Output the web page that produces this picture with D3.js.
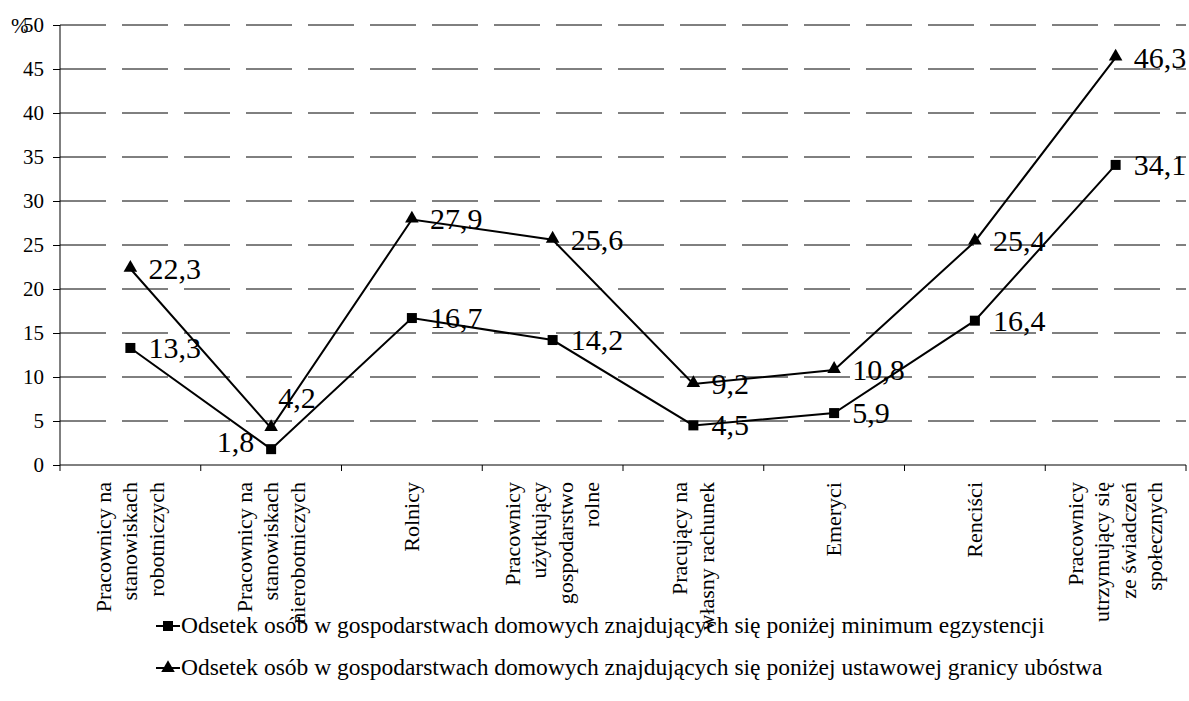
<!DOCTYPE html>
<html>
<head>
<meta charset="utf-8">
<script src="https://cdn.jsdelivr.net/npm/d3@7"></script>
<style>
  #chart text { font-family: "Liberation Serif", "Times New Roman", serif !important; }
</style>
</head>
<body style="margin:0">
<svg id="chart" width="1189" height="701"></svg>
<script>
const categories = [
  ["Pracownicy na", "stanowiskach", "robotniczych"],
  ["Pracownicy na", "stanowiskach", "nierobotniczych"],
  ["Rolnicy"],
  ["Pracownicy", "użytkujący", "gospodarstwo", "rolne"],
  ["Pracujący na", "własny rachunek"],
  ["Emeryci"],
  ["Renciści"],
  ["Pracownicy", "utrzymujący się", "ze świadczeń", "społecznych"]
];
const minimumEgz = [13.3, 1.8, 16.7, 14.2, 4.5, 5.9, 16.4, 34.1];
const granicaUb = [22.3, 4.2, 27.9, 25.6, 9.2, 10.8, 25.4, 46.3];
const seriesNames = [
  "Odsetek osób w gospodarstwach domowych znajdujących się poniżej minimum egzystencji",
  "Odsetek osób w gospodarstwach domowych znajdujących się poniżej ustawowej granicy ubóstwa"
];
const yTicks = [0, 5, 10, 15, 20, 25, 30, 35, 40, 45, 50];

const FONT = "Liberation Serif";
const svg = d3.select("#chart");
const plot = { left: 60, right: 1186, top: 25, bottom: 465 };

const x = d3.scaleBand().domain(d3.range(categories.length)).range([plot.left, plot.right]);
const y = d3.scaleLinear().domain([0, 50]).range([plot.bottom, plot.top]);
const fmt = v => String(v).replace(".", ",");
const cx = i => x(i) + x.bandwidth() / 2;

function serif(sel, size) {
  return sel.attr("font-family", FONT).attr("font-size", size)
    .style("font-family", `"${FONT}"`).style("font-size", size + "px");
}

// dashed gridlines
svg.append("g")
  .selectAll("line")
  .data(yTicks.filter(t => t > 0))
  .join("line")
  .attr("x1", plot.left).attr("x2", plot.right)
  .attr("y1", d => y(d)).attr("y2", d => y(d))
  .attr("stroke", "#000").attr("stroke-width", 1)
  .attr("stroke-dasharray", "46,16");

// y axis
const yAxis = svg.append("g")
  .attr("transform", `translate(${plot.left},0)`)
  .call(d3.axisLeft(y).tickValues(yTicks).tickSize(7).tickPadding(9).tickFormat(d3.format("d")));
yAxis.attr("font-family", null).attr("font-size", null);
yAxis.select(".domain").attr("stroke", "#000").attr("d", `M0,${plot.top}V${plot.bottom}`);
yAxis.selectAll(".tick line").attr("stroke", "#000");
serif(yAxis.selectAll(".tick text").attr("fill", "#000"), 21);

serif(svg.append("text").attr("x", 11).attr("y", 33), 21).text("%");

// x axis
svg.append("line").attr("x1", plot.left).attr("x2", plot.right)
  .attr("y1", plot.bottom).attr("y2", plot.bottom).attr("stroke", "#000");
svg.append("g").selectAll("line")
  .data(d3.range(categories.length + 1))
  .join("line")
  .attr("x1", d => plot.left + d * x.bandwidth()).attr("x2", d => plot.left + d * x.bandwidth())
  .attr("y1", plot.bottom).attr("y2", plot.bottom + 6)
  .attr("stroke", "#000");

// category labels, rotated
const lineGap = 26.5;
categories.forEach((lines, i) => {
  lines.forEach((ln, j) => {
    const off = (j - (lines.length - 1) / 2) * lineGap;
    serif(svg.append("text")
      .attr("transform", `translate(${cx(i) + off + 7},482) rotate(-90)`)
      .attr("text-anchor", "end"), 22)
      .text(ln);
  });
});

// lines
const line = d3.line().x((d, i) => cx(i)).y(d => y(d));
[minimumEgz, granicaUb].forEach(s => {
  svg.append("path").datum(s).attr("d", line)
    .attr("fill", "none").attr("stroke", "#000").attr("stroke-width", 2);
});

const sq = d3.symbol().type(d3.symbolSquare).size(100);
const tri = d3.symbol().type(d3.symbolTriangle).size(80);

svg.append("g").selectAll("path").data(minimumEgz).join("path")
  .attr("d", sq).attr("transform", (d, i) => `translate(${cx(i)},${y(d)})`);
svg.append("g").selectAll("path").data(granicaUb).join("path")
  .attr("d", tri).attr("transform", (d, i) => `translate(${cx(i)},${y(d) - 1})`);

// data labels
function labels(data, special) {
  serif(svg.append("g").selectAll("text").data(data).join("text"), 30)
    .attr("x", (d, i) => cx(i) + (special[i] ? special[i][0] : 18))
    .attr("y", (d, i) => y(d) + 10 + (special[i] ? special[i][1] : 0))
    .attr("text-anchor", (d, i) => special[i] && special[i][2] ? special[i][2] : "start")
    .text(d => fmt(d));
}
labels(minimumEgz, { 1: [-17, -7, "end"] });
labels(granicaUb, { 1: [7, -30] });

// legend
seriesNames.forEach((name, i) => {
  const ly = 626 + i * 42;
  const g = svg.append("g");
  g.append("line").attr("x1", 156).attr("x2", 180).attr("y1", ly).attr("y2", ly)
    .attr("stroke", "#000").attr("stroke-width", 2);
  g.append("path").attr("d", i === 0 ? sq : tri).attr("transform", `translate(168,${ly})`);
  serif(g.append("text").attr("x", 181).attr("y", ly + 7), 23.5).text(name);
});

// force layout so fonts are resolved before the snapshot
svg.selectAll("text").each(function () { this.getComputedTextLength(); });
</script>
</body>
</html>
